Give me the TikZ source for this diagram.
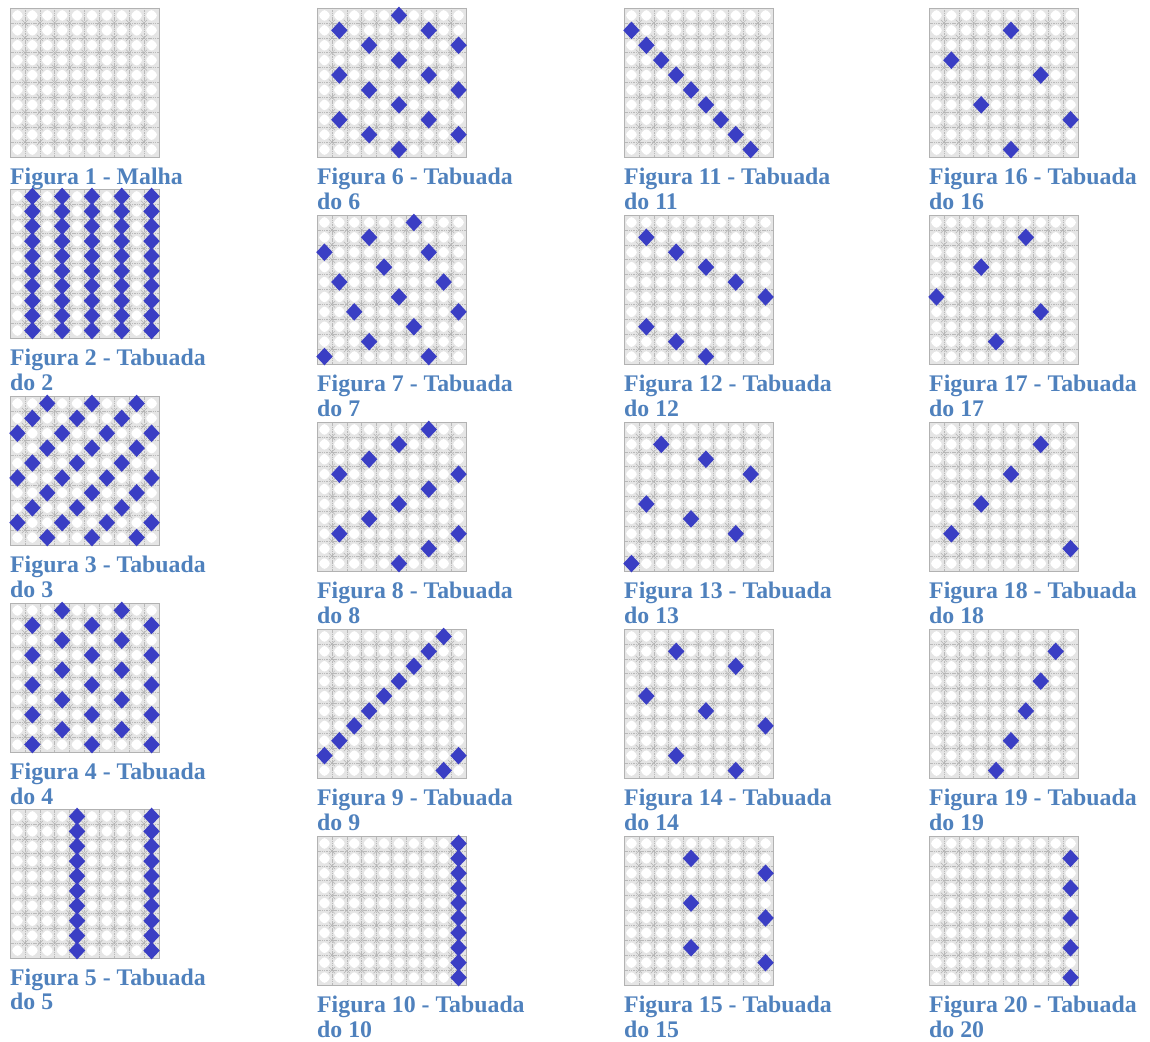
\documentclass[tikz,border=0pt]{standalone}
\usepackage{fontspec}
\setmainfont{Liberation Serif}
\definecolor{capblue}{RGB}{79,129,189}
\definecolor{markblue}{RGB}{58,62,196}
\tikzset{
  x=1pt, y=-1pt,
  gridbg/.style={fill=gray!20},
  cellhole/.style={fill=white},
  gridline/.style={draw=gray!55, line width=0.45pt, dash pattern=on 1.5pt off 0.8pt},
  xmark/.style={draw=gray!60, line width=0.5pt},
  markdia/.style={fill=markblue},
  figcap/.style={anchor=base west, inner sep=0pt, font=\fontsize{23.8}{24}\selectfont\bfseries, text=capblue},
}
% #1 left x, #2 top y, #3 multiplier (1 = empty mesh)
\newcommand{\tabgrid}[3]{%
  \begin{scope}[shift={(#1,#2)}]
    \fill[gridbg] (0,0) rectangle (149,149);
    \foreach \ii in {0,...,9}{\foreach \jj in {0,...,9}{
      \fill[cellhole, rounded corners=3pt] ({\ii*14.9+7.45},{\jj*14.9+0.9}) -- ++(6.55,6.55) -- ++(-6.55,6.55) -- ++(-6.55,-6.55) -- cycle;}}
    \foreach \ii in {0,...,10}{
      \draw[gridline] ({\ii*14.9},0) -- ({\ii*14.9},149);
      \draw[gridline] (0,{\ii*14.9}) -- (149,{\ii*14.9});}
    \foreach \ii in {1,...,9}{\foreach \jj in {1,...,9}{
      \draw[xmark] ({\ii*14.9-3},{\jj*14.9-3}) -- ++(6,6) ++(-6,0) -- ++(6,-6);}}
    \draw[draw=gray!60, line width=0.6pt] (0,0) rectangle (149,149);
    \ifnum#3>1
      \pgfmathtruncatemacro{\cnt}{floor(100/#3)}
      \foreach \kk in {1,...,\cnt}{
        \pgfmathtruncatemacro{\mm}{\kk*#3-1}
        \pgfmathtruncatemacro{\rr}{floor(\mm/10)}
        \pgfmathtruncatemacro{\cc}{mod(\mm,10)}
        \fill[markdia] ({\cc*14.9+7.45},{\rr*14.9+7.45}) ++(0,-8.8) -- ++(8.2,8.8) -- ++(-8.2,8.8) -- ++(-8.2,-8.8) -- cycle;
      }
    \fi
  \end{scope}}
\begin{document}
\begin{tikzpicture}
\fill[white] (0,0) rectangle (1150,1041);
\useasboundingbox (0,0) rectangle (1150,1041);
% column 1
\tabgrid{10}{8}{1}
\node[figcap] (c1) at (10,184) {Figura 1 - Malha};
\tabgrid{10}{189}{2}
\node[figcap] (c2) at (10,365) {Figura 2 - Tabuada};
\node[figcap] (d2) at (10,390) {do 2};
\tabgrid{10}{396}{3}
\node[figcap] (c3) at (10,572) {Figura 3 - Tabuada};
\node[figcap] (d3) at (10,597) {do 3};
\tabgrid{10}{603}{4}
\node[figcap] (c4) at (10,779) {Figura 4 - Tabuada};
\node[figcap] (d4) at (10,804) {do 4};
\tabgrid{10}{809}{5}
\node[figcap] (c5) at (10,985) {Figura 5 - Tabuada};
\node[figcap] (d5) at (10,1009) {do 5};
% columns 2-4
\foreach \cx/\base in {317/6, 624/11, 929/16}{
  \foreach \row/\top in {0/8, 1/215, 2/422, 3/629, 4/836}{
    \pgfmathtruncatemacro{\nn}{\base+\row}
    \tabgrid{\cx}{\top}{\nn}
    \node[figcap] (c\nn) at (\cx,\top+176) {Figura \nn{} - Tabuada};
    \node[figcap] (d\nn) at (\cx,\top+201) {do \nn};
  }
}
\end{tikzpicture}
\end{document}
